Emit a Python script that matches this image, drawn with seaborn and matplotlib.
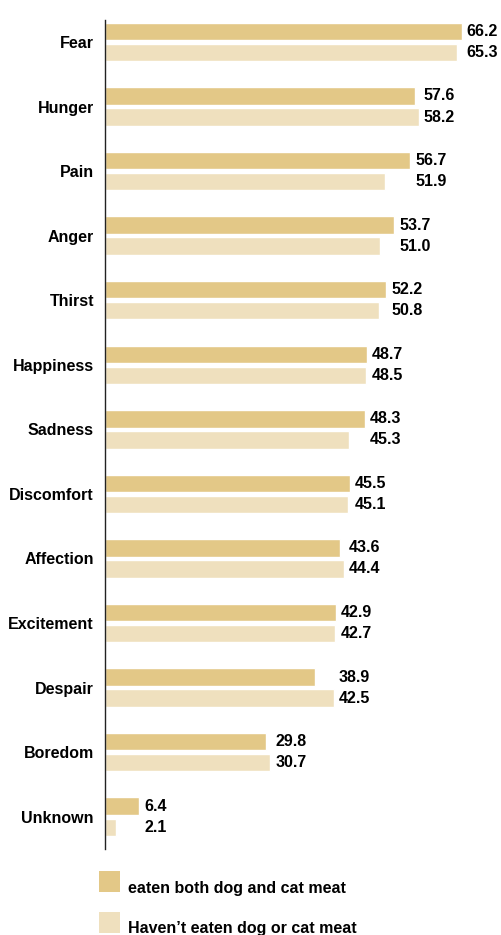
import numpy as np
import pandas as pd
import matplotlib.pyplot as plt
import matplotlib.patches as mpatches
import seaborn as sns

# emotions attributed to animals, % of respondents
emotions = ["Fear", "Hunger", "Pain", "Anger", "Thirst", "Happiness", "Sadness",
            "Discomfort", "Affection", "Excitement", "Despair", "Boredom", "Unknown"]
eaten = [66.2, 57.6, 56.7, 53.7, 52.2, 48.7, 48.3, 45.5, 43.6, 42.9, 38.9, 29.8, 6.4]
not_eaten = [65.3, 58.2, 51.9, 51.0, 50.8, 48.5, 45.3, 45.1, 44.4, 42.7, 42.5, 30.7, 2.1]
groups = ["eaten both dog and cat meat", "Haven\u2019t eaten dog or cat meat"]
colors = ["#E3C887", "#EFE0BE"]

df = pd.DataFrame({
    "emotion": emotions * 2,
    "value": eaten + not_eaten,
    "group": [groups[0]] * len(emotions) + [groups[1]] * len(emotions),
})

sns.set_style("white")
plt.rcParams["font.family"] = ["Liberation Sans", "DejaVu Sans"]
plt.rcParams["font.weight"] = "bold"
plt.rcParams["text.color"] = "black"
plt.rcParams["ytick.color"] = "black"
fs = 11.5

fig = plt.figure(figsize=(5.01, 9.35), dpi=100)
ax = fig.add_axes([105 / 501, 1 - 849 / 935, 390 / 501, 829 / 935])

sns.barplot(data=df, x="value", y="emotion", hue="group", order=emotions,
            hue_order=groups, palette=colors, orient="h", width=0.652,
            saturation=1, ax=ax, legend=False)

# thinner bars with a small gap between the pair
bh = 0.27
for p in ax.patches:
    if p.get_height() > 0 and p.get_width() > 0:
        c = p.get_y() + p.get_height() / 2
        p.set_y(c - bh / 2)
        p.set_height(bh)

# value labels, aligned after the longer bar of each pair
for i, (a, b) in enumerate(zip(eaten, not_eaten)):
    xpos = max(a, b) + 0.9
    ax.text(xpos, i - 0.163, f"{a:.1f}", va="center", ha="left", fontsize=fs, fontweight="bold")
    ax.text(xpos, i + 0.163, f"{b:.1f}", va="center", ha="left", fontsize=fs, fontweight="bold")

ax.set_xlim(0, 72.4)
ax.set_ylim(12.5, -0.34)
ax.set_xlabel("")
ax.set_ylabel("")
ax.set_xticks([])
for s in ["top", "right", "bottom"]:
    ax.spines[s].set_visible(False)
ax.spines["left"].set_color("#222222")
ax.spines["left"].set_linewidth(1)
ax.tick_params(axis="y", length=0, pad=8, labelsize=fs)
for t in ax.get_yticklabels():
    t.set_fontweight("bold")

# legend drawn by hand below the plot
W, H = 501, 935
for k, (lab, col) in enumerate(zip(groups, colors)):
    top = 871 + 41 * k
    fig.patches.append(mpatches.Rectangle((99 / W, 1 - (top + 21) / H), 21 / W, 21 / H,
                                          transform=fig.transFigure, facecolor=col,
                                          edgecolor="none"))
    fig.text(128 / W, 1 - (top + 21.5) / H, lab, fontsize=fs, fontweight="bold",
             va="baseline", ha="left")

fig.savefig("out.png", dpi=100)
